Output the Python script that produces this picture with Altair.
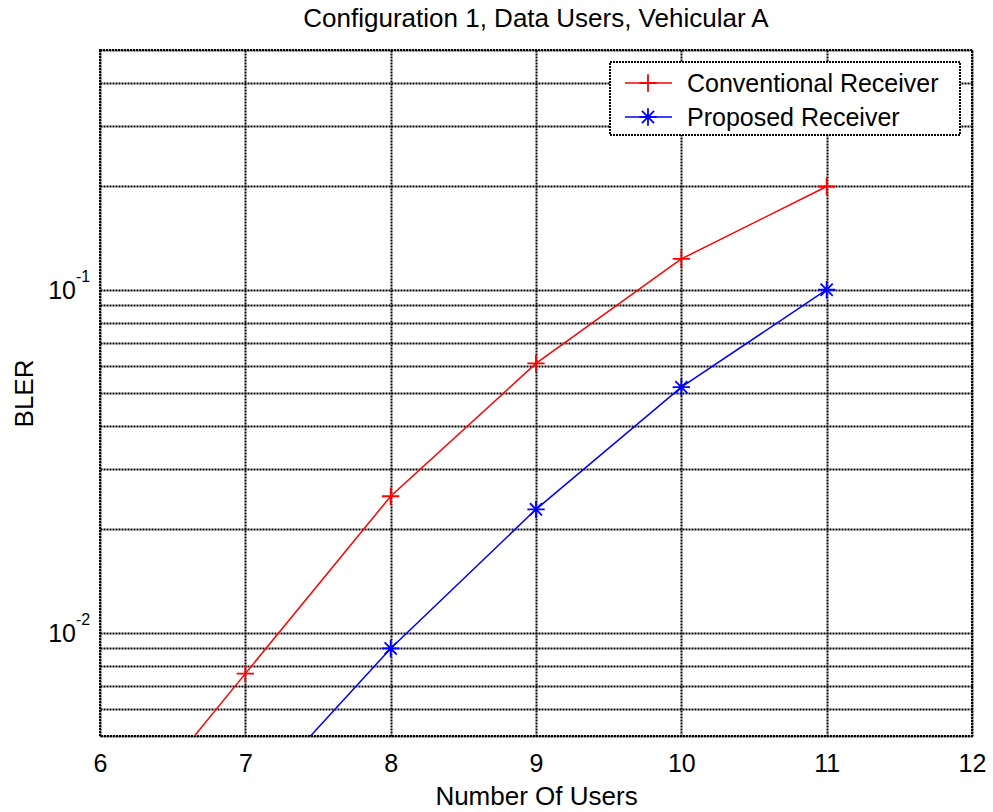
import altair as alt
import pandas as pd

# BLER versus number of users for the two receivers
users_conventional = [6, 7, 8, 9, 10, 11]
bler_conventional = [0.0023, 0.0076, 0.025, 0.061, 0.123, 0.2]
users_proposed = [7, 8, 9, 10, 11]
bler_proposed = [0.0031, 0.009, 0.0229, 0.052, 0.1]

series_names = ["Conventional Receiver", "Proposed Receiver"]
series_colors = ["#ff0000", "#0000ff"]

x_ticks = [6, 7, 8, 9, 10, 11, 12]
y_grid = [0.005, 0.006, 0.007, 0.008, 0.009,
          0.01, 0.02, 0.03, 0.04, 0.05, 0.06, 0.07, 0.08, 0.09,
          0.1, 0.2, 0.3, 0.4, 0.5]
y_decades = [0.01, 0.1]
y_exponents = ["-2", "-1"]

title_text = "Configuration 1, Data Users, Vehicular A"
FONT = "Liberation Sans"

# marker paths: plus and asterisk
PLUS = "M-1,0L1,0M0,-1L0,1"
STAR = "M-1,0L1,0M0,-1L0,1M-0.7,-0.7L0.7,0.7M-0.7,0.7L0.7,-0.7"

df = pd.DataFrame({
    "users": users_conventional + users_proposed,
    "bler": bler_conventional + bler_proposed,
    "series": [series_names[0]] * len(users_conventional)
              + [series_names[1]] * len(users_proposed),
})
labels_df = pd.DataFrame({"bler": y_decades, "exp": y_exponents})
one_row = pd.DataFrame({"k": [0]})

x_scale = alt.Scale(domain=[6, 12], nice=False, zero=False)
y_scale = alt.Scale(type="log", domain=[0.005, 0.5], nice=False)

GRID = dict(grid=True, gridColor="black", gridDash=[2, 1], gridWidth=2, gridOpacity=1)

x_enc = alt.X(
    "users:Q", scale=x_scale,
    axis=alt.Axis(values=x_ticks, format="d", title="Number Of Users", **GRID,
                  ticks=False, tickSize=0, domain=False,
                  labelFont=FONT, labelFontSize=25, labelColor="black",
                  labelBaseline="alphabetic", labelPadding=35, labelFlush=False,
                  titleFont=FONT, titleFontSize=26, titleFontWeight="normal",
                  titleColor="black", titleBaseline="alphabetic", titleY=68),
)
y_enc = alt.Y(
    "bler:Q", scale=y_scale,
    axis=alt.Axis(values=y_grid, title="BLER", labels=False, **GRID,
                  ticks=False, tickSize=0, domain=False,
                  titleFont=FONT, titleFontSize=26, titleFontWeight="normal",
                  titleColor="black", titleBaseline="alphabetic",
                  titleX=-68, titleY=343, titleAngle=270),
)
color_enc = alt.Color("series:N", scale=alt.Scale(domain=series_names, range=series_colors),
                      legend=None)
shape_enc = alt.Shape("series:N", scale=alt.Scale(domain=series_names, range=[PLUS, STAR]),
                      legend=None)

lines = alt.Chart(df).mark_line(clip=True, strokeWidth=1.5).encode(
    x=x_enc, y=y_enc, color=color_enc, detail="series:N"
)
points = alt.Chart(df).mark_point(clip=True, filled=False, strokeWidth=1.8, opacity=1).encode(
    x="users:Q", y="bler:Q", color=color_enc, shape=shape_enc, size=alt.value(300)
)

# y tick labels as powers of ten
base_labels = alt.Chart(labels_df).mark_text(
    font=FONT, fontSize=25, align="right", baseline="alphabetic", dy=9, color="black"
).encode(x=alt.value(-24), y="bler:Q", text=alt.value("10"))
exp_labels = alt.Chart(labels_df).mark_text(
    font=FONT, fontSize=16, align="left", baseline="alphabetic", dy=-8, color="black"
).encode(x=alt.value(-24), y="bler:Q", text="exp:N")

# legend box
legend_box = alt.Chart(one_row).mark_rect(
    fill="white", stroke="black", strokeWidth=2, strokeDash=[2, 1]
).encode(x=alt.value(510), x2=alt.value(860), y=alt.value(12), y2=alt.value(85))

legend_layers = [legend_box]
for i, (name, col, shp) in enumerate(zip(series_names, series_colors, [PLUS, STAR])):
    yc = 33 + 34 * i
    legend_layers.append(
        alt.Chart(one_row).mark_rule(color=col, strokeWidth=1.5).encode(
            x=alt.value(525), x2=alt.value(572), y=alt.value(yc))
    )
    legend_layers.append(
        alt.Chart(one_row).mark_point(shape=shp, filled=False, color=col,
                                      strokeWidth=1.8, opacity=1, size=300).encode(
            x=alt.value(548), y=alt.value(yc))
    )
    legend_layers.append(
        alt.Chart(one_row).mark_text(font=FONT, fontSize=25, align="left",
                                     baseline="alphabetic", color="black").encode(
            x=alt.value(587), y=alt.value(yc + 9), text=alt.value(name))
    )

chart = alt.layer(
    lines, points, base_labels, exp_labels, *legend_layers
).properties(
    width=872,
    height=686,
    title=alt.Title(title_text, font=FONT, fontSize=26, fontWeight="normal",
                    color="black", anchor="middle", baseline="alphabetic",
                    offset=21, dy=24),
    autosize=alt.AutoSizeParams(type="none"),
    padding={"left": 100, "top": 50, "right": 21, "bottom": 76},
    background="white",
).configure_view(
    stroke="black", strokeWidth=2, strokeDash=[2, 1]
)

chart.save("out.html", embed_options={"renderer": "svg", "actions": False})
